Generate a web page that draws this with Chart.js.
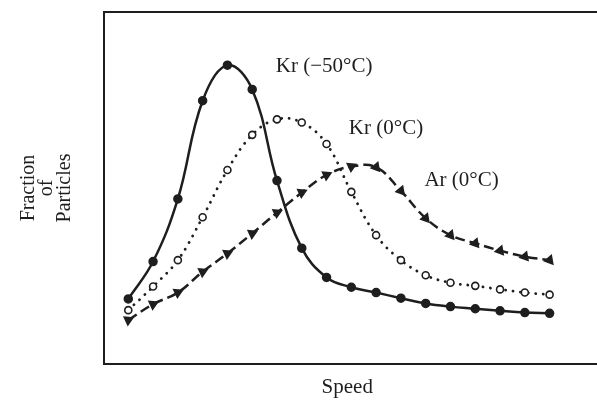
<!DOCTYPE html>
<html>
<head>
<meta charset="utf-8">
<script src="https://cdn.jsdelivr.net/npm/chart.js@4"></script>
<style>
  body { margin: 0; background: #fff; }
  canvas { display: block; }
</style>
</head>
<body>
<canvas id="speed-chart" width="597" height="400"></canvas>
<script>
// Speed steps (arbitrary units along the speed axis)
const speedSteps = [0, 1, 2, 3, 4, 5, 6, 7, 8, 9, 10, 11, 12, 13, 14, 15, 16, 17];

// Fraction of particles (0 - 100 scale)
const krMinus50 = [18.5, 29.1, 46.9, 74.8, 84.9, 78.0, 52.1, 32.9, 24.6, 21.8, 20.3, 18.7, 17.2, 16.3, 15.7, 15.1, 14.6, 14.4];
const krZero = [15.3, 22.0, 29.5, 41.7, 55.1, 65.1, 69.5, 68.6, 62.5, 48.9, 36.6, 29.5, 25.2, 23.1, 22.2, 21.2, 20.3, 19.7];
const arZero = [12.5, 17.0, 20.3, 26.2, 31.4, 37.1, 43.0, 48.7, 53.7, 56.1, 55.9, 49.2, 41.4, 36.6, 34.3, 32.2, 30.5, 29.5];

const seriesLabels = ['Kr (\u221250\u00b0C)', 'Kr (0\u00b0C)', 'Ar (0\u00b0C)'];
// where each curve name sits (data coordinates)
const labelSpots = [
    { x: 5.95, y: 84.5 },
    { x: 8.9, y: 67 },
    { x: 11.95, y: 52 }
];

const ink = '#1e1e1e';
const serif = "'Liberation Serif', 'DejaVu Serif', serif";

function toPoints(values) {
    return values.map((v, i) => ({ x: speedSteps[i], y: v }));
}

// draws the frame (left, top, bottom) and the curve names
const framePlugin = {
    id: 'frame',
    afterDraw(chart) {
        const { ctx, chartArea, scales } = chart;
        ctx.save();
        ctx.strokeStyle = ink;
        ctx.lineWidth = 2;
        ctx.beginPath();
        ctx.moveTo(597, chartArea.top);
        ctx.lineTo(chartArea.left, chartArea.top);
        ctx.lineTo(chartArea.left, chartArea.bottom);
        ctx.lineTo(597, chartArea.bottom);
        ctx.stroke();

        ctx.fillStyle = ink;
        ctx.font = '21px ' + serif;
        ctx.textBaseline = 'middle';
        ctx.textAlign = 'left';
        seriesLabels.forEach((lbl, i) => {
            const px = scales.x.getPixelForValue(labelSpots[i].x);
            const py = scales.y.getPixelForValue(labelSpots[i].y);
            ctx.fillText(lbl, px, py);
        });
        ctx.restore();
    }
};

const ctx = document.getElementById('speed-chart').getContext('2d');
new Chart(ctx, {
    type: 'line',
    data: {
        datasets: [
            {
                label: seriesLabels[0],
                data: toPoints(krMinus50),
                borderColor: ink,
                borderWidth: 2.5,
                pointRadius: 3.5,
                pointBackgroundColor: ink,
                pointBorderColor: ink,
                tension: 0.4
            },
            {
                label: seriesLabels[1],
                data: toPoints(krZero),
                borderColor: ink,
                borderWidth: 2.8,
                borderDash: [0.1, 7.5],
                borderCapStyle: 'round',
                pointRadius: 3.5,
                pointBorderWidth: 1.6,
                pointBackgroundColor: '#fff',
                pointBorderColor: ink,
                tension: 0.4
            },
            {
                label: seriesLabels[2],
                data: toPoints(arZero),
                borderColor: ink,
                borderWidth: 2.5,
                borderDash: [10, 5],
                pointStyle: 'triangle',
                pointRadius: 4,
                pointRotation: c => (c.dataIndex < 10 ? 65 : -100),
                pointBackgroundColor: ink,
                pointBorderColor: ink,
                tension: 0.4
            }
        ]
    },
    options: {
        responsive: false,
        animation: false,
        layout: { padding: { top: 12, right: 0, left: 0, bottom: 0 } },
        plugins: {
            legend: { display: false },
            tooltip: { enabled: false }
        },
        scales: {
            x: {
                type: 'linear',
                min: -0.98,
                max: 18.65,
                grid: { display: false },
                border: { display: false },
                ticks: { display: false },
                title: {
                    display: true,
                    text: 'Speed',
                    color: ink,
                    font: { family: serif, size: 21 },
                    padding: { top: 0, bottom: 0 }
                },
                afterFit(scale) { scale.height = 36; }
            },
            y: {
                min: 0,
                max: 100,
                grid: { display: false },
                border: { display: false },
                ticks: { display: false },
                title: {
                    display: true,
                    text: ['Fraction', 'of', 'Particles'],
                    color: ink,
                    font: { family: serif, size: 20, lineHeight: 0.9 },
                    padding: { top: 20, bottom: 0 }
                },
                afterFit(scale) { scale.width = 104; }
            }
        }
    },
    plugins: [framePlugin]
});
</script>
</body>
</html>
